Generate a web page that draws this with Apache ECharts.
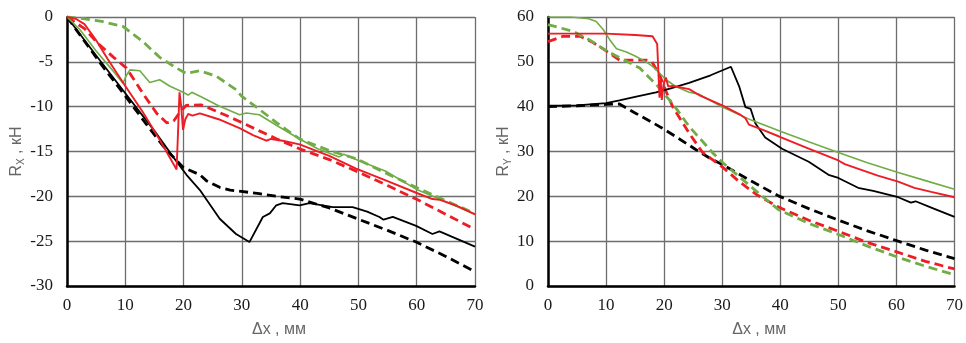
<!DOCTYPE html>
<html lang="ru">
<head>
    <meta charset="UTF-8">
    <title>Rx, Ry</title>
    <script src="https://cdn.jsdelivr.net/npm/echarts@6/dist/echarts.min.js"></script>
    <style>
        html, body { margin: 0; padding: 0; background: #fff; }
    </style>
</head>
<body>
    <div id="main" style="width: 966px;height:343px;"></div>
    <script type="text/javascript">
        // левый график Rx (кН) от Δx (мм)
        var rxBlackSolid = [[0,0],[5,-4.3],[10,-8.5],[15,-12.7],[19,-16.3],[20.5,-17.6],[22.8,-19.3],[26.2,-22.5],[29,-24.2],[31.3,-25.1],[33.6,-22.3],[34.8,-21.9],[35.9,-21.0],[37,-20.75],[39.9,-21.0],[41.6,-20.75],[45.6,-21.2],[49,-21.2],[51.5,-21.7],[53.6,-22.3],[54.3,-22.6],[55.9,-22.3],[59.9,-23.3],[62.7,-24.2],[63.9,-23.9],[66,-24.5],[70,-25.6]];
        var rxBlackDash = [[0,0],[3,-2.7],[6,-5.4],[10,-8.8],[14,-12.3],[17,-14.8],[18.8,-16.0],[20,-16.8],[22.8,-17.6],[24,-18.3],[26.2,-19.0],[28,-19.3],[33,-19.7],[36,-20.0],[39.9,-20.3],[45,-21.3],[50.2,-22.6],[55,-23.8],[59.9,-25.1],[65,-26.7],[70,-28.4]];
        var rxRedSolid = [[0,0],[1.5,-0.2],[3,-0.8],[5,-2.6],[7,-4.7],[10,-7.7],[13,-10.6],[16,-13.8],[18.8,-17.0],[19.1,-12.0],[19.3,-8.4],[19.6,-10.0],[19.9,-12.6],[20.3,-11.4],[20.8,-10.8],[21.5,-11.0],[22.8,-10.75],[26,-11.4],[29.6,-12.4],[32,-13.2],[34.2,-13.8],[35,-13.6],[37,-13.8],[39.9,-14.2],[45,-15.5],[49.6,-16.9],[55,-18.3],[59.9,-19.6],[62.7,-20.3],[64,-20.4],[67,-21.1],[70,-22.0]];
        var rxRedDash = [[0,0],[3,-1.3],[5.4,-3.0],[8,-4.5],[10.2,-5.7],[13.1,-8.6],[15.4,-10.75],[17.1,-11.8],[18.3,-11.6],[19.5,-10.5],[20.5,-9.85],[23,-9.8],[26,-10.6],[29.6,-11.65],[33,-12.7],[36,-13.6],[39.9,-14.7],[45,-15.9],[50,-17.3],[55,-18.8],[59.9,-20.3],[65,-22.0],[70,-23.7]];
        var rxGreenSolid = [[0,0],[2.2,-1.4],[5,-3.8],[7.5,-5.7],[9.6,-7.4],[10.2,-6.5],[10.8,-5.9],[12.5,-6.0],[14.2,-7.3],[15.9,-7.0],[17.6,-7.7],[19.9,-8.4],[20.8,-8.7],[21.4,-8.4],[23,-8.9],[26,-9.9],[29.6,-10.9],[30.8,-10.7],[33,-10.9],[36,-12.1],[39.9,-13.6],[43,-14.7],[46.7,-15.6],[47.5,-15.3],[50,-16.0],[54.7,-17.2],[59.9,-19.2],[65,-20.6],[70,-22.0]];
        var rxGreenDash = [[0,0],[3,-0.2],[6,-0.5],[9.6,-1.05],[13.1,-2.8],[15.9,-4.5],[18.8,-5.7],[20.5,-6.3],[22.8,-6.0],[25.6,-6.6],[29,-8.1],[29.9,-8.8],[33,-10.3],[36,-11.8],[39.9,-13.6],[45,-14.9],[49.6,-15.8],[55,-17.5],[59.9,-19.0],[65,-20.5],[70,-21.9]];

        // правый график Ry (кН) от Δx (мм)
        var ryBlackSolid = [[0,40.2],[5,40.3],[10,40.8],[12.3,41.4],[15,42.2],[18.6,43.2],[21,44.0],[24.3,45.3],[28,47.0],[31.5,48.9],[32.9,44.6],[34,39.9],[34.9,39.5],[35.7,36.3],[37.4,33.1],[40.3,30.6],[44.9,27.7],[48.3,24.8],[50,24.1],[53.4,21.9],[56,21.2],[60.3,19.8],[62.5,18.6],[63.3,18.9],[66,17.5],[70,15.4]];
        var ryBlackDash = [[0,40.0],[5,40.2],[10,40.5],[12.3,40.6],[15,38.6],[17.5,36.8],[19.7,35.2],[22.5,32.9],[25.5,30.4],[28,28.4],[30,27.1],[35,23.4],[39.7,20.1],[45,17.2],[50,14.7],[55,12.3],[60.3,10.0],[65,8.0],[70,6.1]];
        var ryRedSolid = [[0,56.3],[5,56.3],[10,56.3],[15,56.0],[18,55.7],[18.8,54],[19.0,48],[19.2,42],[19.4,46],[19.6,41.5],[19.9,45],[20.3,46.5],[20.7,44.5],[21.5,44.6],[24.3,43.9],[26,42.6],[30,40.3],[33,38.3],[34,37.4],[34.6,36],[37,34.8],[39.7,33.4],[45,30.6],[50,28.0],[51.1,27.2],[56.8,24.6],[60.3,23.3],[63.1,21.9],[66,21.0],[70,19.8]];
        var ryRedDash = [[0,54.5],[2.6,55.7],[5.5,55.7],[7.5,54.5],[9.5,52.9],[12.3,50.4],[16.9,50.4],[17.9,50.0],[19.2,47.1],[20.3,43.5],[21.5,39.9],[24.3,34.1],[26.6,29.8],[30,26.6],[32.9,23.3],[36,20.3],[39.7,17.6],[45,14.6],[50,12.2],[55,9.7],[60.3,7.5],[65,5.5],[70,3.8]];
        var ryGreenSolid = [[0,60],[4,60],[7,59.6],[8.3,59],[9.5,57.2],[10.6,55],[11.8,52.9],[13.5,52.2],[15,51.3],[16.9,50],[18,49],[19.2,47.5],[20.3,46],[22,44.5],[24.3,43.2],[26,42.8],[30,39.9],[35,37.0],[40,34.5],[45,32.1],[50,29.8],[55,27.5],[60.3,25.3],[65,23.5],[70,21.6]];
        var ryGreenDash = [[0,58.3],[4.3,56.8],[7,55],[10,52.5],[13,50.5],[15.8,48.6],[18.6,45],[21.5,40.6],[24.3,35.6],[28.3,29.8],[30,27.6],[33,24.3],[36,21.0],[39.7,17.0],[45,13.9],[50,11.5],[55,8.9],[60.3,6.4],[65,4.4],[70,2.5]];

        var xTicks = { min: 0, max: 70, interval: 10 };
        var rxTicks = { min: -30, max: 0, interval: 5 };
        var ryTicks = { min: 0, max: 60, interval: 10 };

        var RED = '#ee1c24', GREEN = '#70ad47', BLACK = '#000';

        var myChart = echarts.init(document.getElementById('main'));

        var labelFont = { fontFamily: 'Liberation Serif', fontSize: 17, color: '#1a1a1a' };
        var nameFont = { fontFamily: 'Liberation Sans', fontSize: 16, color: '#666' };

        function xAxis(idx) {
            return {
                type: 'value', gridIndex: idx,
                min: xTicks.min, max: xTicks.max, interval: xTicks.interval,
                axisLine: { show: true, onZero: false, lineStyle: { color: '#000', width: 2.5 } },
                axisTick: { show: false },
                axisLabel: Object.assign({ margin: 11 }, labelFont),
                splitLine: { show: true, lineStyle: { color: '#6e6e6e', width: 1.3 } },
                name: 'Δx , мм', nameLocation: 'middle', nameGap: 36,
                nameTextStyle: Object.assign({ padding: [0, 0, 0, 16] }, nameFont)
            };
        }

        function yAxis(idx, ticks, sub, gap) {
            return {
                type: 'value', gridIndex: idx,
                min: ticks.min, max: ticks.max, interval: ticks.interval,
                axisLine: { show: true, onZero: false, lineStyle: { color: '#000', width: 2.5 } },
                axisTick: { show: false },
                axisLabel: Object.assign({ margin: 14 }, labelFont),
                splitLine: { show: true, lineStyle: { color: '#6e6e6e', width: 1.3 } },
                name: '{r|R}{s|' + sub + '}{r| , кН}', nameLocation: 'middle', nameGap: gap, nameRotate: 90,
                nameTextStyle: {
                    rich: {
                        r: { fontFamily: 'Liberation Sans', fontSize: 16, color: '#666', lineHeight: 20 },
                        s: { fontFamily: 'Liberation Sans', fontSize: 10, color: '#666', lineHeight: 10, verticalAlign: 'bottom' }
                    }
                }
            };
        }

        function line(idx, data, color, dashed, width) {
            return {
                type: 'line', xAxisIndex: idx, yAxisIndex: idx,
                data: data, showSymbol: false, smooth: false,
                lineStyle: { color: color, width: width, type: dashed ? [9, 5] : 'solid' }
            };
        }

        var option = {
            animation: false,
            grid: [
                { left: 67, top: 17, width: 408, height: 278 },
                { left: 548, top: 17, width: 408, height: 278 }
            ],
            xAxis: [xAxis(0), xAxis(1)],
            yAxis: [yAxis(0, rxTicks, 'X', 40), yAxis(1, ryTicks, 'Y', 34)],
            series: [
                line(0, rxBlackDash, BLACK, true, 2.8),
                line(0, rxRedDash, RED, true, 2.8),
                line(0, rxGreenDash, GREEN, true, 2.8),
                line(0, rxBlackSolid, BLACK, false, 1.8),
                line(0, rxGreenSolid, GREEN, false, 1.6),
                line(0, rxRedSolid, RED, false, 1.9),
                line(1, ryBlackDash, BLACK, true, 2.8),
                line(1, ryRedDash, RED, true, 2.8),
                line(1, ryGreenDash, GREEN, true, 2.8),
                line(1, ryBlackSolid, BLACK, false, 1.8),
                line(1, ryGreenSolid, GREEN, false, 1.6),
                line(1, ryRedSolid, RED, false, 1.9)
            ]
        };

        myChart.setOption(option);
    </script>
</body>
</html>
